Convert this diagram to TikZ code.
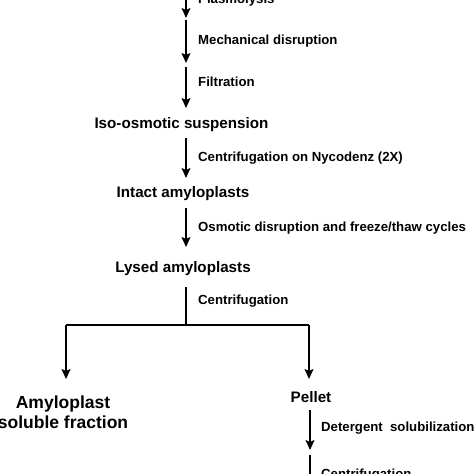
\documentclass[tikz,border=0pt]{standalone}
\usepackage{fontspec}
\setmainfont{Liberation Sans}
\usetikzlibrary{arrows.meta}
\tikzset{
  lbl/.style={anchor=base west, inner sep=0pt, font=\fontsize{13.2}{15}\selectfont\bfseries},
  stage/.style={anchor=base, inner sep=0pt, font=\fontsize{15.2}{18}\selectfont\bfseries},
  bigstage/.style={anchor=base, inner sep=0pt, font=\fontsize{17.5}{20}\selectfont\bfseries},
  flow/.style={line width=1.2pt, -{Stealth[length=10pt,width=9pt,inset=2pt]}},
  plain/.style={line width=1.2pt}
}
\begin{document}
\begin{tikzpicture}[x=1pt,y=-1pt]
\useasboundingbox (0,0) rectangle (474,474);
\clip (0,0) rectangle (474,474);
\fill[white] (0,0) rectangle (474,474);
% stages
\node[stage] (iso) at (181.5,128.5) {Iso-osmotic suspension};
\node[stage] (intact) at (183,197.5) {Intact amyloplasts};
\node[stage] (lysed) at (183,272) {Lysed amyloplasts};
\node[bigstage] (amy1) at (63,408.3) {Amyloplast};
\node[bigstage] (amy2) at (63,428.3) {soluble fraction};
\node[stage] (pellet) at (311,402) {Pellet};
% step labels
\node[lbl] (l1) at (198,3) {Plasmolysis};
\node[lbl] (l2) at (198,44.5) {Mechanical disruption};
\node[lbl] (l3) at (198,86) {Filtration};
\node[lbl] (l4) at (198,161.5) {Centrifugation on Nycodenz (2X)};
\node[lbl] (l5) at (198,231.5) {Osmotic disruption and freeze/thaw cycles};
\node[lbl] (l6) at (198,304) {Centrifugation};
\node[lbl] (l7) at (321,431) {Detergent\ \ solubilization};
\node[lbl] (l8) at (321,478) {Centrifugation};
% connector points
\coordinate (a1s) at (186,-5);
\coordinate (a1e) at (186,18);
\coordinate (a2s) at (186,20);
\coordinate (a2e) at (186,63);
\coordinate (a3s) at (186,67);
\coordinate (a3e) at (186,108);
\coordinate (a4s) at (186,138);
\coordinate (a4e) at (186,178);
\coordinate (a5s) at (186,208);
\coordinate (a5e) at (186,247);
\coordinate (a6s) at (186,287);
\coordinate (split) at (186,325);
\coordinate (lc) at (66,325);
\coordinate (rc) at (309,325);
\coordinate (le) at (66,379);
\coordinate (re) at (309,379);
\coordinate (a7s) at (310,410);
\coordinate (a7e) at (310,450);
\coordinate (a8s) at (310,455);
\coordinate (a8e) at (310,480);
% connectors
\draw[flow] (a1s) -- (a1e);
\draw[flow] (a2s) -- (a2e);
\draw[flow] (a3s) -- (a3e);
\draw[flow] (a4s) -- (a4e);
\draw[flow] (a5s) -- (a5e);
\draw[plain] (a6s) -- (split);
\draw[plain] (lc) -- (rc);
\draw[flow] (lc) -- (le);
\draw[flow] (rc) -- (re);
\draw[flow] (a7s) -- (a7e);
\draw[plain] (a8s) -- (a8e);
\end{tikzpicture}
\end{document}
